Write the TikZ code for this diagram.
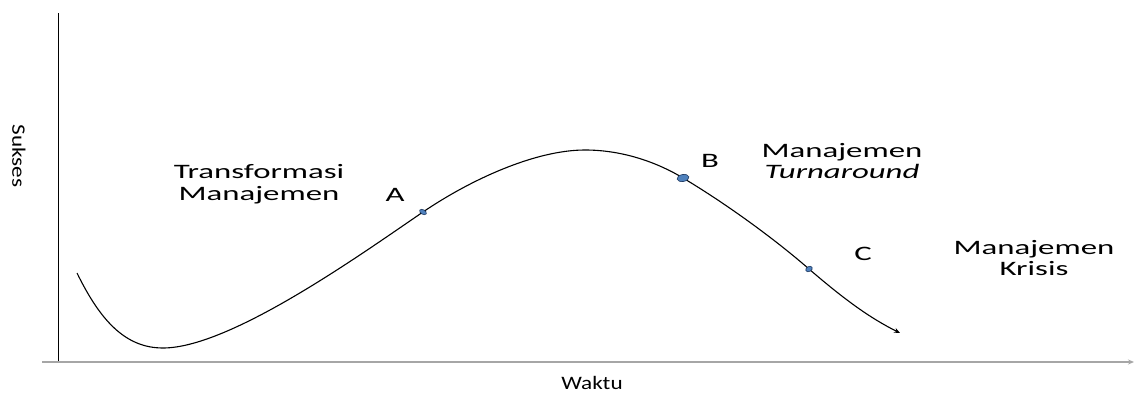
\documentclass[tikz,border=0pt]{standalone}
\usepackage{fontspec}
\setmainfont{Carlito}
\newfontfamily\widefont[FakeStretch=1.6]{Carlito}
\newfontfamily\axisfont[FakeStretch=1.22]{Carlito}
\usepackage{tikz}
\usetikzlibrary{arrows.meta,positioning,calc,shapes.geometric}
\usepackage{xcolor}
\definecolor{dotblue}{HTML}{4F81BD}
\definecolor{dotedge}{HTML}{1F3B63}

\begin{document}
\begin{tikzpicture}[x=1pt, y=-1pt,
    lbl/.style={font=\widefont\fontsize{20.5}{21.5}\selectfont, align=center, inner sep=0pt},
    axlbl/.style={font=\axisfont\fontsize{19}{21}\selectfont, inner sep=0pt},
    dot/.style={ellipse, draw=dotedge, fill=dotblue, line width=0.6pt, inner sep=0pt, minimum width=#1},
    arr/.style={-{Stealth[length=6pt, width=5pt]}}
]
\useasboundingbox (0,0) rectangle (1135,396);
% axes
\coordinate (o) at (58,362);
\coordinate (ytop) at (58,13);
\coordinate (xl) at (42,362);
\coordinate (xr) at (1134,362);
\draw[line width=1pt] (o) -- (ytop);
\draw[arr, line width=1.4pt, draw=gray!70] (xl) -- (xr);
\node[axlbl, rotate=-90] (sukses) at (19,156) {Sukses};
\node[axlbl] (waktu) at (592,383) {Waktu};

% curve
\coordinate (s) at (77,273);
\coordinate (m) at (163,348);
\coordinate (pa) at (423,212);
\coordinate (p) at (585,150);
\coordinate (pb) at (683,178);
\coordinate (pc) at (809,269);
\coordinate (e) at (900,333);
\draw[arr, line width=1.1pt] (s) .. controls (100,320) and (125,348) .. (m)
  .. controls (230,348) and (360,255) .. (pa)
  .. controls (470,180) and (535,150) .. (p)
  .. controls (625,150) and (660,164) .. (pb)
  .. controls (720,200) and (770,235) .. (pc)
  .. controls (845,300) and (870,318) .. (e);
\node[dot=7.5pt, minimum height=4.5pt, rotate=-30] (a) at (pa) {};
\node[dot=12pt, minimum height=7pt, rotate=10] (b) at (pb) {};
\node[dot=7pt, minimum height=5pt, rotate=30] (c) at (pc) {};

% labels
\node[lbl] (la) at (395,195) {A};
\node[lbl] (lb) at (710,161) {B};
\node[lbl] (lc) at (863,254) {C};
\node[lbl] (tm) at (259,184) {Transformasi\\Manajemen};
\node[lbl] (mt) at (842,161) {Manajemen\\\itshape Turnaround};
\node[lbl] (mk) at (1034,258) {Manajemen\\Krisis};
\end{tikzpicture}
\end{document}
